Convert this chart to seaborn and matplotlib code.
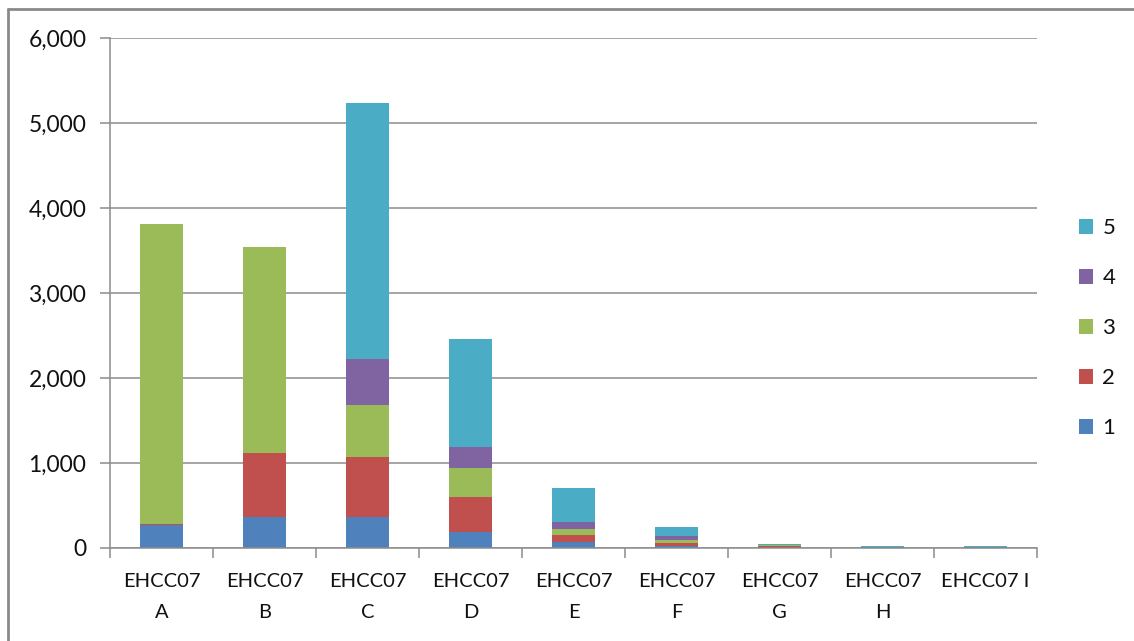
import numpy as np
import pandas as pd
import seaborn as sns
import matplotlib.pyplot as plt
from matplotlib.patches import Patch
from matplotlib.lines import Line2D

# Categories and stacked series values
categories = ["EHCC07\nA", "EHCC07\nB", "EHCC07\nC", "EHCC07\nD", "EHCC07\nE",
              "EHCC07\nF", "EHCC07\nG", "EHCC07\nH", "EHCC07 I"]
series_names = ["1", "2", "3", "4", "5"]
s1 = [265, 365, 365, 188, 66, 18, 5, 2, 2]
s2 = [20, 753, 705, 412, 87, 42, 22, 2, 2]
s3 = [3523, 2419, 612, 341, 71, 30, 4, 1, 1]
s4 = [0, 0, 542, 247, 78, 48, 4, 2, 1]
s5 = [0, 0, 3011, 1271, 408, 104, 12, 13, 14]
y_ticks = [0, 1000, 2000, 3000, 4000, 5000, 6000]
y_tick_labels = ["0", "1,000", "2,000", "3,000", "4,000", "5,000", "6,000"]

colors = ["#4F81BD", "#C0504D", "#9BBB59", "#8064A2", "#4BACC6"]

sns.set_theme(style="white")
plt.rcParams["font.family"] = ["Lato", "DejaVu Sans"]

values = np.array([s1, s2, s3, s4, s5], dtype=float)
cum = np.cumsum(values, axis=0)

fig = plt.figure(figsize=(11.34, 6.41), dpi=100)
W, H = 1134, 641
ax = fig.add_axes([110 / W, (H - 548) / H, (1037 - 110) / W, (548 - 38) / H])

# Stacked bars: draw cumulative totals from the top series down
for i in reversed(range(len(series_names))):
    df = pd.DataFrame({"category": categories, "value": cum[i]})
    sns.barplot(data=df, x="category", y="value", color=colors[i],
                width=0.41, saturation=1, ax=ax, errorbar=None,
                edgecolor="none", linewidth=0, order=categories)

ax.set_xlim(-0.5, len(categories) - 0.5)
ax.set_ylim(0, 6000)
ax.set_xlabel("")
ax.set_ylabel("")

grid_c = "#8C8C8C"
text_c = "#111111"
ax.set_yticks(y_ticks)
ax.set_yticklabels(y_tick_labels)
ax.yaxis.grid(True, color=grid_c, linewidth=1.1)
ax.set_axisbelow(True)
ax.tick_params(axis="y", which="major", left=True, length=7, width=1.1,
               color=grid_c, pad=10, labelsize=16.5, labelcolor=text_c)

# Category labels at centres, tick marks at category boundaries
ax.set_xticks(range(len(categories)))
ax.set_xticklabels(categories, linespacing=2.0)
ax.set_xticks(np.arange(-0.5, len(categories), 1.0), minor=True)
ax.tick_params(axis="x", which="major", length=0, pad=18, labelsize=14.5,
               labelcolor=text_c)
ax.tick_params(axis="x", which="minor", bottom=True, length=7, width=1.1,
               color=grid_c)
for lab in ax.get_xticklabels():
    lab.set_verticalalignment("top")

for side in ["top", "right"]:
    ax.spines[side].set_visible(False)
for side in ["left", "bottom"]:
    ax.spines[side].set_color(grid_c)
    ax.spines[side].set_linewidth(1.1)

# Legend, top entry is the last series
handles = [Patch(facecolor=colors[i], edgecolor="none") for i in reversed(range(5))]
labels = [series_names[i] for i in reversed(range(5))]
fig.legend(handles, labels, loc="center left",
           bbox_to_anchor=(1079 / W, 1 - 328 / H), frameon=False,
           fontsize=16, handlelength=0.65, handleheight=0.65,
           handletextpad=0.4, labelspacing=1.35, borderpad=0, borderaxespad=0,
           labelcolor=text_c)

# Chart frame
fig.add_artist(Line2D([7.5 / W, 1.0], [1 - 8.5 / H, 1 - 8.5 / H],
                      transform=fig.transFigure, color="#8A8A8A", linewidth=2))
fig.add_artist(Line2D([7.5 / W, 7.5 / W], [0, 1 - 8.5 / H],
                      transform=fig.transFigure, color="#8A8A8A", linewidth=2))

fig.savefig("out.png", dpi=100)
